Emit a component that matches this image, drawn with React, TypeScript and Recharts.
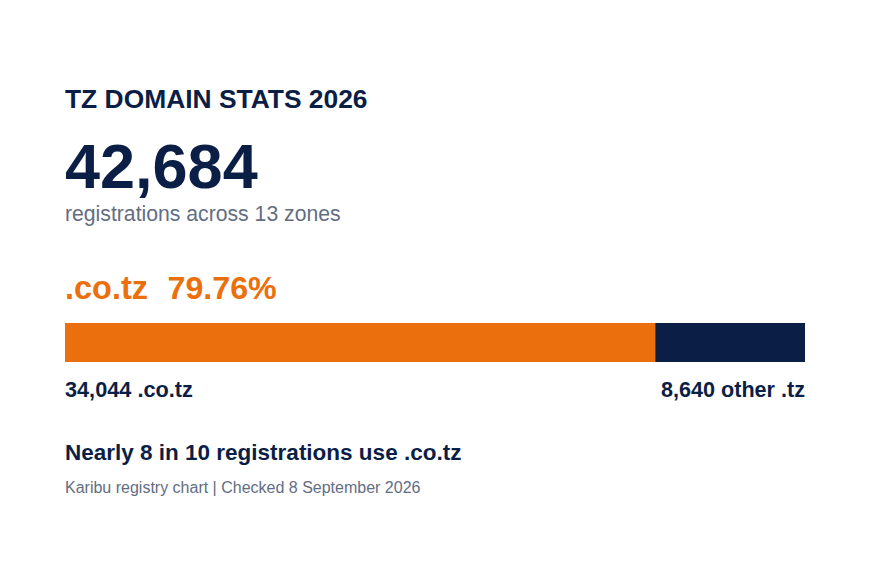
import { BarChart, Bar, XAxis, YAxis } from 'recharts'

const categories = ['.co.tz', 'other .tz']
const counts = [34044, 8640]
const zoneCount = 13
const title = 'TZ DOMAIN STATS 2026'
const takeaway = 'Nearly 8 in 10 registrations use .co.tz'
const source = 'Karibu registry chart | Checked 8 September 2026'

const NAVY = '#0b1e46'
const ORANGE = '#ec6f0d'
const GRAY = '#636d82'
const FONT = '"Liberation Sans", Arial, sans-serif'

const W = 870
const H = 570
const LEFT = 65
const RIGHT = 805

const total = counts.reduce((a, b) => a + b, 0)
const share = ((counts[0] / total) * 100).toFixed(2)
const fmt = (n: number) => n.toLocaleString('en-US')

const barData = [{ name: 'share', primary: counts[0], other: counts[1] }]

export default function App() {
  return (
    <div style={{ position: 'absolute', left: 0, top: 0, width: W, height: H, background: '#fff', fontFamily: FONT }}>
      <svg width={W} height={H} style={{ position: 'absolute', left: 0, top: 0 }} fontFamily={FONT}>
        <text x={LEFT} y={108} fontSize={26.4} fontWeight={700} fill={NAVY}>{title}</text>
        <text x={LEFT} y={188} fontSize={63} fontWeight={700} fill={NAVY}>{fmt(total)}</text>
        <text x={LEFT} y={221} fontSize={21.2} fill={GRAY}>registrations across {zoneCount} zones</text>
        <text x={LEFT} y={299} fontSize={32.5} fontWeight={700} fill={ORANGE}>{categories[0]}</text>
        <text x={167.5} y={299} fontSize={32.2} fontWeight={700} fill={ORANGE}>{share}%</text>
        <text x={LEFT} y={397} fontSize={21.7} fontWeight={700} fill={NAVY}>{fmt(counts[0])} {categories[0]}</text>
        <text x={RIGHT} y={397} fontSize={21.6} fontWeight={700} fill={NAVY} textAnchor="end">{fmt(counts[1])} {categories[1]}</text>
        <text x={LEFT} y={460} fontSize={22.5} fontWeight={700} fill={NAVY}>{takeaway}</text>
        <text x={LEFT} y={493} fontSize={16} fill={GRAY}>{source}</text>
      </svg>
      <div style={{ position: 'absolute', left: LEFT, top: 323 }}>
        <BarChart
          width={RIGHT - LEFT}
          height={39}
          data={barData}
          layout="vertical"
          margin={{ top: 0, right: 0, bottom: 0, left: 0 }}
          barCategoryGap={0}
        >
          <XAxis type="number" hide domain={[0, total]} />
          <YAxis type="category" dataKey="name" hide />
          <Bar dataKey="primary" stackId="a" fill={ORANGE} isAnimationActive={false} />
          <Bar dataKey="other" stackId="a" fill={NAVY} isAnimationActive={false} />
        </BarChart>
      </div>
    </div>
  )
}
